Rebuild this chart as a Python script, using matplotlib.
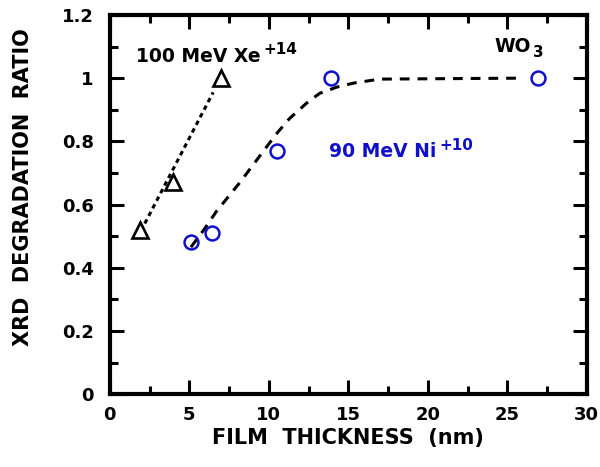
import matplotlib
matplotlib.use('Agg')
import matplotlib.pyplot as plt
from matplotlib.ticker import MultipleLocator

plt.rcParams['font.family'] = ['DejaVu Sans']
plt.rcParams['font.weight'] = 'bold'

# data
xe_thick = [1.9, 4.0, 7.0]
xe_ratio = [0.52, 0.67, 1.0]
ni_thick = [5.1, 6.4, 10.5, 13.9, 26.9]
ni_ratio = [0.48, 0.51, 0.77, 1.0, 1.0]

# guide curves
xe_fit_x = [2.2, 6.5]
xe_fit_y = [0.54, 0.955]
ni_fit_x = [5.1, 6.0, 6.7, 8.2, 9.6, 10.5, 11.3, 12.4, 13.2, 14.3, 15.4, 17.0, 26.0]
ni_fit_y = [0.465, 0.526, 0.578, 0.671, 0.765, 0.825, 0.872, 0.922, 0.952, 0.972, 0.985, 0.997, 1.0]

blue = '#1010cc'

fig = plt.figure(figsize=(6, 4.67), dpi=100)
ax = fig.add_axes([0.183, 0.156, 0.795, 0.812])

ax.plot(xe_fit_x, xe_fit_y, color='black', lw=2.2, ls=(0, (1.5, 1.3)))
ax.plot(ni_fit_x, ni_fit_y, color='black', lw=2.2, ls=(0, (3.2, 2.6)))
ax.plot(xe_thick, xe_ratio, ls='none', marker='^', ms=12, mfc='none',
        mec='black', mew=1.9)
ax.plot(ni_thick, ni_ratio, ls='none', marker='o', ms=10, mfc='none',
        mec=blue, mew=1.8)

def label(x, y, main, sup, color, sub=False):
    t = ax.text(x, y, main, fontsize=13.5, fontweight='bold', color=color,
                va='baseline', ha='left')
    if sub:
        ax.annotate(sup, xy=(1, 0), xycoords=t, xytext=(1.5, -1),
                    textcoords='offset points', fontsize=11,
                    fontweight='bold', color=color, va='baseline', ha='left')
    else:
        ax.annotate(sup, xy=(1, 0.5), xycoords=t, xytext=(2, 1.5),
                    textcoords='offset points', fontsize=11,
                    fontweight='bold', color=color, va='baseline', ha='left')

label(1.64, 1.051, '100 MeV Xe', '+14', 'black')
label(13.77, 0.75, '90 MeV Ni', '+10', blue)
label(24.2, 1.083, 'WO', '3', 'black', sub=True)

ax.set_xlim(0, 30)
ax.set_ylim(0, 1.2)
ax.xaxis.set_major_locator(MultipleLocator(5))
ax.xaxis.set_minor_locator(MultipleLocator(2.5))
ax.yaxis.set_minor_locator(MultipleLocator(0.1))
ax.set_yticks([0, 0.2, 0.4, 0.6, 0.8, 1.0, 1.2])
ax.set_yticklabels(['0', '0.2', '0.4', '0.6', '0.8', '1', '1.2'])

ax.tick_params(which='both', direction='in', top=True, right=True,
               labelsize=13, width=2.2)
ax.tick_params(axis='x', pad=8.5)
ax.tick_params(axis='y', pad=11.5)
ax.tick_params(which='major', length=10)
ax.tick_params(which='minor', length=6)
for s in ax.spines.values():
    s.set_linewidth(3)
for lab in ax.get_xticklabels() + ax.get_yticklabels():
    lab.set_fontweight('bold')

ax.set_xlabel('FILM  THICKNESS  (nm)', fontsize=15, fontweight='bold', labelpad=3)
ax.set_ylabel('XRD  DEGRADATION  RATIO', fontsize=15, fontweight='bold')
ax.yaxis.set_label_coords(-0.161, 0.546)

fig.savefig('out.png', dpi=100)
